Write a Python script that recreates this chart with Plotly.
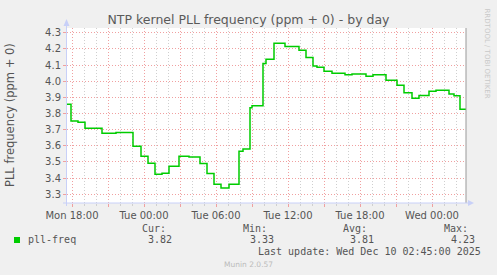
import plotly.graph_objects as go

# ---- data ----
times = [
    "2025-12-08 17:35", "2025-12-08 17:55", "2025-12-08 18:30", "2025-12-08 19:05",
    "2025-12-08 20:30", "2025-12-08 21:40", "2025-12-08 23:05", "2025-12-08 23:45",
    "2025-12-09 00:20", "2025-12-09 00:55", "2025-12-09 01:30", "2025-12-09 02:05",
    "2025-12-09 02:55", "2025-12-09 03:45", "2025-12-09 04:40", "2025-12-09 05:15",
    "2025-12-09 05:50", "2025-12-09 06:25", "2025-12-09 07:05", "2025-12-09 07:55",
    "2025-12-09 08:15", "2025-12-09 08:50", "2025-12-09 09:00", "2025-12-09 09:55",
    "2025-12-09 10:10", "2025-12-09 10:50", "2025-12-09 11:45", "2025-12-09 12:55",
    "2025-12-09 13:30", "2025-12-09 14:05", "2025-12-09 14:25", "2025-12-09 15:00",
    "2025-12-09 15:40", "2025-12-09 16:45", "2025-12-09 17:20", "2025-12-09 18:30",
    "2025-12-09 19:05", "2025-12-09 20:10", "2025-12-09 21:05", "2025-12-09 21:40",
    "2025-12-09 22:20", "2025-12-09 22:55", "2025-12-09 23:45", "2025-12-10 00:20",
    "2025-12-10 01:25", "2025-12-10 01:50", "2025-12-10 02:20", "2025-12-10 02:50",
]
pll_freq = [
    3.857, 3.754, 3.745, 3.708,
    3.677, 3.683, 3.597, 3.535,
    3.492, 3.424, 3.430, 3.473,
    3.535, 3.531, 3.490, 3.428,
    3.362, 3.339, 3.362, 3.566,
    3.580, 3.836, 3.848, 4.110,
    4.135, 4.234, 4.215, 4.191,
    4.146, 4.094, 4.086, 4.061,
    4.049, 4.039, 4.045, 4.031,
    4.039, 4.006, 3.975, 3.928,
    3.894, 3.912, 3.937, 3.943,
    3.920, 3.910, 3.826, 3.826,
]

x_major = [
    "2025-12-08 18:00", "2025-12-08 21:00", "2025-12-09 00:00", "2025-12-09 03:00",
    "2025-12-09 06:00", "2025-12-09 09:00", "2025-12-09 12:00", "2025-12-09 15:00",
    "2025-12-09 18:00", "2025-12-09 21:00", "2025-12-10 00:00",
]
x_labels = ["Mon 18:00", "", "Tue 00:00", "", "Tue 06:00", "", "Tue 12:00", "",
            "Tue 18:00", "", "Wed 00:00"]
y_ticks = [3.3, 3.4, 3.5, 3.6, 3.7, 3.8, 3.9, 4.0, 4.1, 4.2, 4.3]
y_labels = ["3.3", "3.4", "3.5", "3.6", "3.7", "3.8", "3.9", "4.0", "4.1", "4.2", "4.3"]

stat_names = ["Cur:", "Min:", "Avg:", "Max:"]
stat_values = ["3.82", "3.33", "3.81", "4.23"]
series_name = "pll-freq"
last_update = "Last update: Wed Dec 10 02:45:00 2025"
title = "NTP kernel PLL frequency (ppm + 0) - by day"
y_title = "PLL frequency (ppm + 0)"

# ---- layout geometry ----
W, H = 497, 275
L, R, T, B = 67, 466, 28, 203


def px(x):
    return (x - L) / (R - L)


def py(y):
    return (B - y) / (B - T)


GREEN = "#00cc00"
MGRID = "#f0a0a0"
GRID = "#cfcfcf"
AXIS = "#c8d0f8"
TXT = "#555555"

fig = go.Figure()
fig.add_trace(go.Scatter(
    x=times, y=pll_freq, mode="lines", line=dict(color=GREEN, width=1.5, shape="hv"),
    hoverinfo="skip", showlegend=False,
))

fig.update_layout(
    width=W, height=H,
    margin=dict(l=L, r=W - R, t=T, b=H - B),
    paper_bgcolor="#f0f0f0", plot_bgcolor="#ffffff",
    font=dict(family="DejaVu Sans", size=10, color=TXT),
    showlegend=False,
    title=dict(text=title, x=0.5, xref="container", xanchor="center",
               y=1 - 20 / H, yref="container", yanchor="middle",
               font=dict(family="DejaVu Sans", size=12.5, color="#5a5a5a")),
    xaxis=dict(
        type="date", range=["2025-12-08 17:35", "2025-12-10 02:50"],
        tickmode="array", tickvals=x_major, ticktext=x_labels,
        showgrid=True, gridcolor=MGRID, griddash="1px,2px", gridwidth=1,
        ticks="outside", ticklen=3, tickcolor=MGRID,
        tickfont=dict(family="DejaVu Sans", size=10, color=TXT),
        minor=dict(dtick=3600000, tick0="2025-12-08 18:00", showgrid=True,
                   gridcolor=GRID, griddash="1px,2px", gridwidth=1,
                   ticks="outside", ticklen=2, tickcolor=GRID),
        showline=False, zeroline=False, fixedrange=True,
    ),
    yaxis=dict(
        range=[3.246, 4.329],
        tickmode="array", tickvals=y_ticks, ticktext=y_labels,
        showgrid=True, gridcolor=MGRID, griddash="1px,2px", gridwidth=1,
        ticks="outside", ticklen=3, tickcolor=MGRID,
        tickfont=dict(family="DejaVu Sans", size=10, color=TXT),
        showline=False, zeroline=False, fixedrange=True,
    ),
)

shapes = []
# right frame line
shapes.append(dict(type="line", xref="paper", yref="paper", x0=1, x1=1, y0=0, y1=1,
                   line=dict(color="#999999", width=1)))
# left axis with arrow
shapes.append(dict(type="line", xref="paper", yref="paper", x0=px(66.5), x1=px(66.5),
                   y0=py(206), y1=py(24), line=dict(color=AXIS, width=1)))
shapes.append(dict(type="path", xref="paper", yref="paper",
                   path=f"M {px(63.5)} {py(26)} L {px(69.5)} {py(26)} L {px(66.5)} {py(19)} Z",
                   fillcolor=AXIS, line=dict(color=AXIS, width=0)))
# bottom axis with arrow
shapes.append(dict(type="line", xref="paper", yref="paper", x0=px(63), x1=px(469),
                   y0=py(203), y1=py(203), line=dict(color=AXIS, width=1)))
shapes.append(dict(type="path", xref="paper", yref="paper",
                   path=f"M {px(468)} {py(200)} L {px(468)} {py(206)} L {px(474)} {py(203)} Z",
                   fillcolor=AXIS, line=dict(color=AXIS, width=0)))
# legend colour box
shapes.append(dict(type="rect", xref="paper", yref="paper", x0=px(14), x1=px(20),
                   y0=py(243), y1=py(237), fillcolor=GREEN, line=dict(width=0)))
fig.update_layout(shapes=shapes)

MONO = "DejaVu Sans Mono"
ann = []
ann.append(dict(text=y_title, textangle=-90, x=px(10), y=py(115), xref="paper", yref="paper",
                showarrow=False, xanchor="center", yanchor="middle",
                font=dict(family="DejaVu Sans", size=11.5, color=TXT)))
ann.append(dict(text=series_name, x=px(26), y=py(239.5), xref="paper", yref="paper",
                showarrow=False, xanchor="left", yanchor="middle",
                font=dict(family=MONO, size=10, color=TXT)))
name_right = [168, 269, 369, 470]
val_right = [174, 276, 376, 477]
for i in range(4):
    ann.append(dict(text=stat_names[i], x=px(name_right[i]), y=py(228), xref="paper", yref="paper",
                    showarrow=False, xanchor="right", yanchor="middle",
                    font=dict(family=MONO, size=10, color=TXT)))
    ann.append(dict(text=stat_values[i], x=px(val_right[i]), y=py(239.5), xref="paper", yref="paper",
                    showarrow=False, xanchor="right", yanchor="middle",
                    font=dict(family=MONO, size=10, color=TXT)))
ann.append(dict(text=last_update, x=px(483), y=py(251.5), xref="paper", yref="paper",
                showarrow=False, xanchor="right", yanchor="middle",
                font=dict(family=MONO, size=10, color=TXT)))
ann.append(dict(text="Munin 2.0.57", x=px(248), y=py(264), xref="paper", yref="paper",
                showarrow=False, xanchor="center", yanchor="middle",
                font=dict(family="DejaVu Sans", size=7.5, color="#bbbbbb")))
ann.append(dict(text="RRDTOOL / TOBI OETIKER", textangle=90, x=px(487), y=py(53.5),
                xref="paper", yref="paper", showarrow=False, xanchor="center", yanchor="middle",
                font=dict(family="DejaVu Sans", size=7, color="#c8c8c8")))
fig.update_layout(annotations=ann)

fig.write_html("out.html", config={"displayModeBar": False})
